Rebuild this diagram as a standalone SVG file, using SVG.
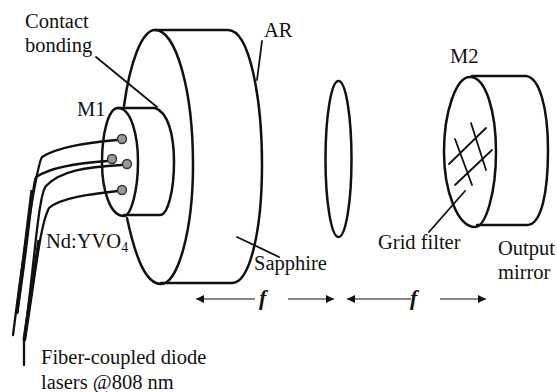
<svg xmlns="http://www.w3.org/2000/svg" width="557" height="392" viewBox="0 0 557 392">
<style>
text{font-family:"Liberation Serif","Times New Roman",serif;font-size:20.5px;fill:#111}
.s{fill:none;stroke:#111;stroke-width:2.5;stroke-linecap:round;stroke-linejoin:round}
.t{fill:none;stroke:#111;stroke-width:1.8;stroke-linecap:round}
.f{fill:none;stroke:#111;stroke-width:2.3;stroke-linecap:round}
.h{fill:none;stroke:#111;stroke-width:3.200;stroke-linecap:butt}
.a{fill:none;stroke:#111;stroke-width:1;marker-end:url(#ah)}
.d{fill:#999;stroke:#333;stroke-width:1.4}
.i{font-weight:bold;font-style:italic;font-size:22px}
</style>
<defs><marker id="ah" markerUnits="userSpaceOnUse" markerWidth="9" markerHeight="8" refX="8" refY="4" orient="auto"><path d="M0 0L8 4L0 8Z" fill="#111"/></marker></defs>
<rect width="557" height="392" fill="#fff"/>
<g id="sapphire">
<path class="s" d="M124 106C130 62 142 30 155 30C176 30 193 90 193 165C193 230 178 284 161 284C145 284 135 255 127 218"/>
<path class="s" d="M155 30H228C250 30 262 100 262 165C262 230 250 283 232 283H161"/>
</g>
<g id="m1">
<path class="s" d="M118 108C131 108 138 135 138 162C138 190 131 216 124 216C110 216 102 190 102 162C102 135 108 108 118 108Z"/>
<path class="s" d="M118 108H155C168 112 174 135 174 162C174 190 168 215 160 215H124"/>
</g>
<g id="lens"><ellipse class="s" cx="338.500" cy="159" rx="13" ry="78"/></g>
<g id="m2">
<path class="s" d="M470 77C486 77 496 112 496 152C496 192 486 227 475 227C458 227 444 192 444 152C444 112 456 77 470 77Z"/>
<path class="s" d="M472 76H525C540 76 548 110 548 150C548 190 542 225 527 225H477"/>
<path class="t" d="M455 139L472 185M471 123L486 170M449 164L486 128M455 185L492 150M465 191L429 232"/>
</g>
<g id="connectors">
<path class="f" d="M117 140C85 143 58 147 42 157C37 165 25 240 13 335"/>
<path class="f" d="M108 161C75 163 50 168 36 177C32 184 29 240 17 313"/>
<path class="f" d="M122 165C85 167 60 171 46 186C38 195 34 270 24 340L24 365"/>
<path class="f" d="M118 191C90 194 60 198 49 208C40 225 36 270 25 340"/>
<path class="h" d="M32 190L17 313M39 240L24 340"/>
<path class="t" d="M96 57L157 107M262 41L257 80M237 237L279 257"/>
<path class="a" d="M255 299H196"/>
<path class="a" d="M288 299H334"/>
<path class="a" d="M411 299H347"/>
<path class="a" d="M440 299H486"/>
</g>
<g id="ports">
<circle class="d" cx="122" cy="139" r="4.500"/>
<circle class="d" cx="112" cy="159" r="4.500"/>
<circle class="d" cx="127" cy="164" r="4.500"/>
<circle class="d" cx="122" cy="190" r="4.500"/>
</g>
<g id="labels">
<text x="25" y="28">Contact</text>
<text x="25" y="52">bonding</text>
<text x="77" y="116">M1</text>
<text x="264" y="37">AR</text>
<text x="450" y="63">M2</text>
<text x="46" y="248">Nd:YVO<tspan font-size="14" dy="4">4</tspan></text>
<text x="254" y="270">Sapphire</text>
<text x="378" y="249">Grid filter</text>
<text x="498" y="255">Output</text>
<text x="498" y="279">mirror</text>
<text x="41" y="364">Fiber-coupled diode</text>
<text x="41" y="389">lasers @808 nm</text>
<text class="i" x="259" y="305">f</text>
<text class="i" x="410" y="305">f</text>
</g>
</svg>
